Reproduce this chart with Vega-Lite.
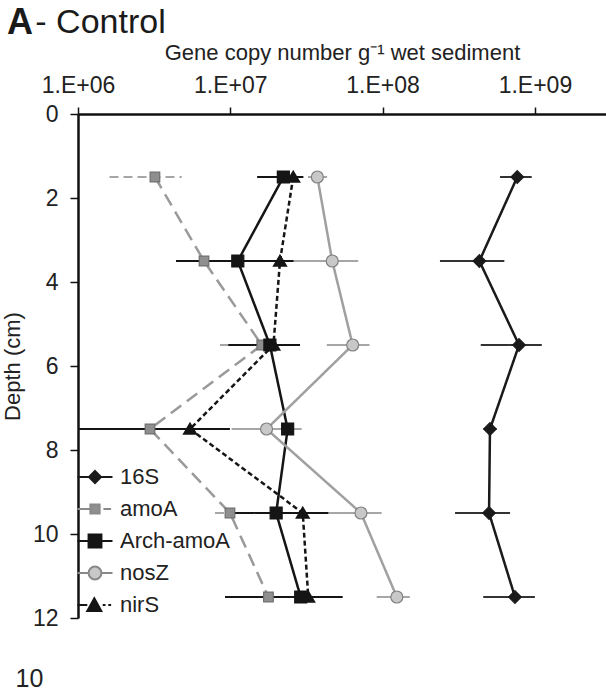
{
  "$schema": "https://vega.github.io/schema/vega-lite/v6.json",
  "width": 528,
  "height": 504,
  "autosize": {"type": "none"},
  "padding": {"left": 78, "top": 114, "right": 0, "bottom": 81},
  "background": "white",
  "title": {
    "text": "A",
    "subtitle": "\u200b\u00a0\u00a0\u00a0- Control",
    "anchor": "start",
    "frame": "group",
    "dx": -71,
    "dy": 11,
    "font": "Liberation Sans",
    "fontSize": 36,
    "fontWeight": "bold",
    "color": "#1a1a1a",
    "subtitleFont": "Liberation Sans",
    "subtitleFontSize": 34,
    "subtitleColor": "#1a1a1a",
    "subtitlePadding": -36,
    "offset": 10
  },
  "config": {"view": {"stroke": null}, "font": "Liberation Sans"},
  "data": {
    "values": [
      {"gene": "16S", "depth": 1.5, "val": 7.66e8, "lo": 5.9e8, "hi": 9.53e8},
      {"gene": "16S", "depth": 3.5, "val": 4.32e8, "lo": 2.38e8, "hi": 6.3e8},
      {"gene": "16S", "depth": 5.5, "val": 7.87e8, "lo": 4.41e8, "hi": 1.11e9},
      {"gene": "16S", "depth": 7.5, "val": 5.07e8, "lo": 4.6e8, "hi": 5.6e8},
      {"gene": "16S", "depth": 9.5, "val": 5.0e8, "lo": 2.99e8, "hi": 6.87e8},
      {"gene": "16S", "depth": 11.5, "val": 7.4e8, "lo": 4.58e8, "hi": 1.0e9},
      {"gene": "amoA", "depth": 1.5, "val": 3.2e6, "lo": 1.61e6, "hi": 4.8e6},
      {"gene": "amoA", "depth": 3.5, "val": 6.72e6, "lo": 4.8e6, "hi": 8.78e6},
      {"gene": "amoA", "depth": 5.5, "val": 1.61e7, "lo": 8.56e6, "hi": 2.35e7},
      {"gene": "amoA", "depth": 7.5, "val": 2.97e6, "lo": 4e5, "hi": 5.5e6},
      {"gene": "amoA", "depth": 9.5, "val": 9.95e6, "lo": 7.93e6, "hi": 1.19e7},
      {"gene": "amoA", "depth": 11.5, "val": 1.78e7, "lo": 1.45e7, "hi": 2.18e7},
      {"gene": "Arch-amoA", "depth": 1.5, "val": 2.23e7, "lo": 1.5e7, "hi": 3.02e7},
      {"gene": "Arch-amoA", "depth": 3.5, "val": 1.12e7, "lo": 4.4e6, "hi": 3.34e7},
      {"gene": "Arch-amoA", "depth": 5.5, "val": 1.82e7, "lo": 9.7e6, "hi": 2.87e7},
      {"gene": "Arch-amoA", "depth": 7.5, "val": 2.38e7, "lo": 2.2e7, "hi": 2.56e7},
      {"gene": "Arch-amoA", "depth": 9.5, "val": 2.0e7, "lo": 9.7e6, "hi": 4.94e7},
      {"gene": "Arch-amoA", "depth": 11.5, "val": 2.9e7, "lo": 9.23e6, "hi": 5.47e7},
      {"gene": "nosZ", "depth": 1.5, "val": 3.73e7, "lo": 3.24e7, "hi": 4.32e7},
      {"gene": "nosZ", "depth": 3.5, "val": 4.67e7, "lo": 2.35e7, "hi": 6.92e7},
      {"gene": "nosZ", "depth": 5.5, "val": 6.36e7, "lo": 4.3e7, "hi": 8.2e7},
      {"gene": "nosZ", "depth": 7.5, "val": 1.73e7, "lo": 1.02e7, "hi": 2.94e7},
      {"gene": "nosZ", "depth": 9.5, "val": 7.21e7, "lo": 4.4e7, "hi": 9.86e7},
      {"gene": "nosZ", "depth": 11.5, "val": 1.24e8, "lo": 9.15e7, "hi": 1.51e8},
      {"gene": "nirS", "depth": 1.5, "val": 2.59e7, "lo": 2.3e7, "hi": 3.0e7},
      {"gene": "nirS", "depth": 3.5, "val": 2.12e7, "lo": 1.7e7, "hi": 2.6e7},
      {"gene": "nirS", "depth": 5.5, "val": 1.92e7, "lo": 1.7e7, "hi": 2.15e7},
      {"gene": "nirS", "depth": 7.5, "val": 5.44e6, "lo": 9e5, "hi": 9.95e6},
      {"gene": "nirS", "depth": 9.5, "val": 2.99e7, "lo": 2.7e7, "hi": 3.3e7},
      {"gene": "nirS", "depth": 11.5, "val": 3.25e7, "lo": 2.9e7, "hi": 3.6e7}
    ]
  },
  "resolve": {
    "axis": {"x": "independent"},
    "scale": {"stroke": "independent", "shape": "independent", "fill": "independent"}
  },
  "encoding": {
    "y": {
      "field": "depth",
      "type": "quantitative",
      "scale": {"domain": [0, 12], "reverse": true, "nice": false, "zero": false},
      "axis": {
        "title": "Depth (cm)",
        "values": [0, 2, 4, 6, 8, 10, 12],
        "grid": false,
        "titleFont": "Liberation Sans",
        "titleFontSize": 22,
        "titleFontWeight": "normal",
        "titleColor": "#222",
        "titlePadding": 8,
        "labelFont": "Liberation Sans",
        "labelFontSize": 23,
        "labelColor": "#222",
        "labelPadding": 12,
        "tickSize": 8,
        "tickColor": "#111",
        "tickWidth": 1.5,
        "domainColor": "#111",
        "domainWidth": 2.5,
        "labelFlush": false,
        "labelOverlap": false
      }
    }
  },
  "layer": [
    {
      "mark": {"type": "rule", "strokeWidth": 1.8, "clip": true},
      "encoding": {
        "x": {
          "field": "lo",
          "type": "quantitative",
          "scale": {"type": "log", "domain": [1000000, 2930000000], "nice": false},
          "axis": {
            "orient": "bottom",
            "domain": false,
            "ticks": false,
            "labels": false,
            "grid": false,
            "title": "10",
            "titleX": -63,
            "titleY": 68,
            "titleAlign": "left",
            "titleBaseline": "alphabetic",
            "titleAnchor": "start",
            "titleFont": "Liberation Sans",
            "titleFontSize": 25,
            "titleFontWeight": "normal",
            "titleColor": "#222"
          }
        },
        "x2": {"field": "hi"},
        "stroke": {
          "field": "gene",
          "type": "nominal",
          "scale": {"domain": ["16S", "Arch-amoA", "amoA", "nirS", "nosZ"], "range": ["#333333", "#151515", "#a6a6a6", "#151515", "#a6a6a6"]},
          "legend": null
        },
        "strokeDash": {"condition": {"test": "datum.gene === 'amoA'", "value": [9, 5]}, "value": [1, 0]}
      }
    },
    {
      "mark": {"type": "line", "strokeWidth": 2.5},
      "encoding": {
        "x": {
          "field": "val",
          "type": "quantitative",
          "scale": {"type": "log", "domain": [1000000, 2930000000], "nice": false},
          "axis": {
            "orient": "top",
            "values": [1000000, 10000000, 100000000, 1000000000],
            "labelExpr": "'1.E+0' + round(log(datum.value) / LN10)",
            "title": "Gene copy number g\u207b\u00b9 wet sediment",
            "titleFont": "Liberation Sans",
            "titleFontSize": 22,
            "titleFontWeight": "normal",
            "titleColor": "#222",
            "titlePadding": 10,
            "labelFont": "Liberation Sans",
            "labelFontSize": 23,
            "labelColor": "#222",
            "labelPadding": 10,
            "tickSize": 7,
            "tickColor": "#111",
            "tickWidth": 1.5,
            "domainColor": "#111",
            "domainWidth": 2.5,
            "grid": false,
            "labelFlush": false,
            "labelOverlap": false
          }
        },
        "stroke": {
          "field": "gene",
          "type": "nominal",
          "scale": {"domain": ["16S", "Arch-amoA", "amoA", "nirS", "nosZ"], "range": ["#1a1a1a", "#151515", "#9a9a9a", "#151515", "#a0a0a0"]},
          "legend": null
        },
        "strokeDash": {
          "field": "gene",
          "type": "nominal",
          "scale": {"domain": ["16S", "Arch-amoA", "amoA", "nirS", "nosZ"], "range": [[1, 0], [1, 0], [13, 7], [5, 3], [1, 0]]},
          "legend": null
        },
        "order": {"field": "depth", "type": "quantitative"}
      }
    },
    {
      "mark": {"type": "point", "filled": true, "size": 144, "strokeWidth": 1.2, "opacity": 1},
      "encoding": {
        "x": {
          "field": "val",
          "type": "quantitative",
          "scale": {"type": "log", "domain": [1000000, 2930000000], "nice": false},
          "axis": null
        },
        "shape": {
          "field": "gene",
          "type": "nominal",
          "scale": {
            "domain": ["16S", "Arch-amoA", "amoA", "nirS", "nosZ"],
            "range": [
              "M0,-1.05L1.05,0L0,1.05L-1.05,0Z",
              "M-1,-1H1V1H-1Z",
              "M-0.8,-0.8H0.8V0.8H-0.8Z",
              "M0,-1L1.1,0.85H-1.1Z",
              "circle"
            ]
          },
          "legend": null
        },
        "fill": {
          "field": "gene",
          "type": "nominal",
          "scale": {"domain": ["16S", "Arch-amoA", "amoA", "nirS", "nosZ"], "range": ["#1a1a1a", "#151515", "#8f8f8f", "#151515", "#c8c8c8"]},
          "legend": null
        },
        "stroke": {
          "field": "gene",
          "type": "nominal",
          "scale": {"domain": ["16S", "Arch-amoA", "amoA", "nirS", "nosZ"], "range": ["#1a1a1a", "#151515", "#6e6e6e", "#151515", "#808080"]},
          "legend": null
        }
      }
    },
    {
      "mark": {"type": "point", "filled": true, "opacity": 0},
      "encoding": {
        "x": {
          "field": "val",
          "type": "quantitative",
          "scale": {"type": "log", "domain": [1000000, 2930000000], "nice": false},
          "axis": null
        },
        "shape": {
          "field": "gene",
          "type": "nominal",
          "scale": {
            "domain": ["16S", "amoA", "Arch-amoA", "nosZ", "nirS"],
            "range": [
              "M-1.25,0H1.25M0,-0.43L0.43,0L0,0.43L-0.43,0Z",
              "M-1.25,0H-0.33M0.6,0H1.15M-0.33,-0.33H0.33V0.33H-0.33Z",
              "M-1.25,0H1.25M-0.46,-0.46H0.46V0.46H-0.46Z",
              "M-1.25,0H-0.46M0.46,0H1.25M-0.46,0A0.46,0.46 0 1,0 0.46,0A0.46,0.46 0 1,0 -0.46,0Z",
              "M-1.25,0H-0.55M0.55,0H0.75M0.95,0H1.15M-0.05,-0.48L0.45,0.42H-0.55Z"
            ]
          },
          "legend": {
            "title": null,
            "orient": "bottom-left",
            "offset": 2,
            "padding": 0,
            "labelFont": "Liberation Sans",
            "labelFontSize": 22,
            "labelColor": "#222",
            "labelOffset": 10,
            "symbolSize": 784,
            "symbolStrokeWidth": 2,
            "symbolOpacity": 1,
            "rowPadding": 6
          }
        },
        "fill": {
          "field": "gene",
          "type": "nominal",
          "scale": {"domain": ["16S", "amoA", "Arch-amoA", "nosZ", "nirS"], "range": ["#1a1a1a", "#8f8f8f", "#151515", "#c8c8c8", "#151515"]}
        },
        "stroke": {
          "field": "gene",
          "type": "nominal",
          "scale": {"domain": ["16S", "amoA", "Arch-amoA", "nosZ", "nirS"], "range": ["#1a1a1a", "#8a8a8a", "#151515", "#888888", "#151515"]}
        }
      }
    }
  ]
}
